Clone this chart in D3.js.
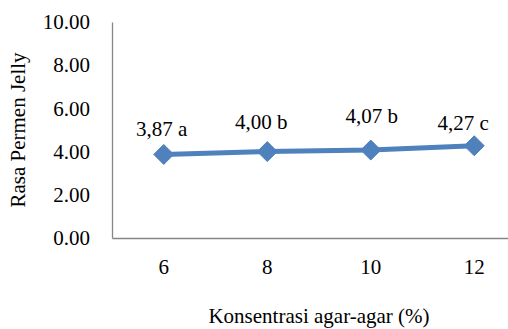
<!DOCTYPE html>
<html>
<head>
<meta charset="utf-8">
<script src="https://cdn.jsdelivr.net/npm/d3@7"></script>
<style>
  html, body { margin: 0; padding: 0; background: #fff; }
  svg { display: block; }
</style>
</head>
<body>
<svg id="chart" width="508" height="329"></svg>
<script>
// Concentration of agar-agar (%) and mean jelly-candy taste score
const categories = ["6", "8", "10", "12"];
const tasteScores = [3.87, 4.00, 4.07, 4.27];
const significance = ["a", "b", "b", "c"];
const yTicks = [0, 2, 4, 6, 8, 10];

// Hand-placed label nudges (dx, dy above the marker), in px
const labelNudge = [[-2, -18], [-6, -23], [1, -27], [-11, -16]];

const FONT = "'Liberation Serif', 'Times New Roman', serif";
const fontSize = 21;
const axisColor = "#868686";

const svg = d3.select("#chart").attr("font-family", FONT);
const margin = { left: 112, top: 22, bottom: 238, right: 526 };

const x = d3.scaleBand().domain(categories).range([margin.left, margin.right]);
const y = d3.scaleLinear().domain([0, 10]).range([margin.bottom, margin.top]);
const cx = d => x(d) + x.bandwidth() / 2;

// Y axis
const yAxis = svg.append("g")
  .attr("transform", `translate(${margin.left},0)`)
  .call(d3.axisLeft(y).tickValues(yTicks).tickFormat(d3.format(".2f")).tickSize(0).tickPadding(22));
yAxis.attr("font-family", FONT).attr("font-size", fontSize);
yAxis.select(".domain").attr("stroke", axisColor).attr("stroke-width", 1.3);
yAxis.selectAll("text").attr("fill", "#000");

// X axis
const xAxis = svg.append("g")
  .attr("transform", `translate(0,${margin.bottom})`)
  .call(d3.axisBottom(x).tickSize(0).tickPadding(21));
xAxis.attr("font-family", FONT).attr("font-size", fontSize);
xAxis.select(".domain").attr("stroke", axisColor).attr("stroke-width", 1.3);
xAxis.selectAll("text").attr("fill", "#000");

// Series line
const pts = categories.map((c, i) => ({ c, v: tasteScores[i], s: significance[i], n: labelNudge[i] }));
svg.append("path")
  .datum(pts)
  .attr("fill", "none")
  .attr("stroke", "#4F81BD")
  .attr("stroke-width", 5)
  .attr("stroke-linejoin", "round")
  .attr("d", d3.line().x(d => cx(d.c)).y(d => y(d.v)));

// Diamond markers
svg.selectAll(".marker")
  .data(pts)
  .join("path")
  .attr("class", "marker")
  .attr("transform", d => `translate(${cx(d.c)},${y(d.v)})`)
  .attr("d", "M0,-10L10,0L0,10L-10,0Z")
  .attr("fill", "#4F81BD")
  .attr("stroke", "#4F81BD")
  .attr("stroke-width", 1);

// Value labels with significance letters
svg.selectAll(".vlabel")
  .data(pts)
  .join("text")
  .attr("class", "vlabel")
  .attr("x", d => cx(d.c) + d.n[0])
  .attr("y", d => y(d.v) + d.n[1])
  .attr("text-anchor", "middle")
  .attr("font-family", FONT)
  .attr("font-size", fontSize)
  .attr("fill", "#000")
  .text(d => d3.format(".2f")(d.v).replace(".", ",") + " " + d.s);

// Axis titles
svg.append("text")
  .attr("transform", `translate(25,${(margin.top + margin.bottom) / 2}) rotate(-90)`)
  .attr("text-anchor", "middle")
  .attr("font-family", FONT)
  .attr("font-size", fontSize)
  .attr("fill", "#000")
  .text("Rasa Permen Jelly");

svg.append("text")
  .attr("x", (margin.left + margin.right) / 2)
  .attr("y", 323)
  .attr("text-anchor", "middle")
  .attr("font-family", FONT)
  .attr("font-size", fontSize)
  .attr("fill", "#000")
  .text("Konsentrasi agar-agar (%)");
</script>
</body>
</html>
